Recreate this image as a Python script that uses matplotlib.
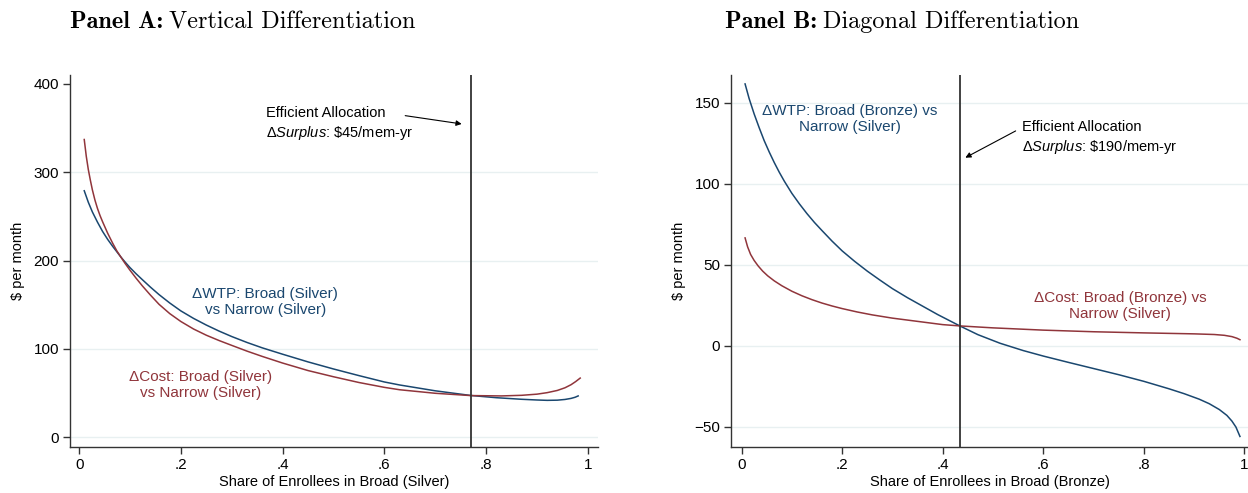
import matplotlib
matplotlib.use("Agg")
import matplotlib.pyplot as plt

plt.rcParams["font.family"] = ["Liberation Sans", "DejaVu Sans"]
plt.rcParams["mathtext.fontset"] = "custom"
plt.rcParams["mathtext.rm"] = "Liberation Sans"
plt.rcParams["mathtext.it"] = "Liberation Sans:italic"

BLUE = "#1a476f"
RED = "#90353b"
GRID = "#e8f0f1"
AXC = "#333333"

# Panel A: vertical differentiation (Silver vs Silver)
a_wtp_x = [0.01, 0.018, 0.026, 0.036, 0.046, 0.056, 0.066, 0.074, 0.082, 0.09, 0.1,
           0.112, 0.124, 0.14, 0.157, 0.178, 0.2, 0.225, 0.25, 0.275, 0.3, 0.33, 0.36,
           0.4, 0.45, 0.5, 0.55, 0.6, 0.63, 0.7, 0.77, 0.82, 0.87, 0.9, 0.92, 0.94,
           0.955, 0.967, 0.975, 0.981]
a_wtp_y = [279, 266, 255, 243.5, 233, 224, 216, 210, 204, 198.5, 192,
           185, 178.5, 170, 161.5, 152, 143, 134.5, 127, 120.2, 114, 107.3, 101.2,
           94, 85.3, 77.3, 69.8, 62.6, 59.2, 52.6, 47.3, 44.8, 43, 42.2, 41.8, 42,
           42.8, 44, 45.3, 46.8]
a_cost_x = [0.01, 0.014, 0.018, 0.022, 0.026, 0.031, 0.036, 0.041, 0.046, 0.056, 0.066,
            0.074, 0.082, 0.09, 0.1, 0.112, 0.124, 0.14, 0.157, 0.178, 0.2, 0.225,
            0.25, 0.275, 0.3, 0.33, 0.36, 0.4, 0.45, 0.5, 0.55, 0.6, 0.63, 0.7, 0.77,
            0.83, 0.87, 0.9, 0.92, 0.94, 0.955, 0.967, 0.976, 0.985]
a_cost_y = [337, 318, 303, 291, 280, 268.5, 259, 251, 244, 231, 219.5,
            211, 204, 197, 189, 180, 171.5, 161, 150.5, 140, 131, 122.5,
            115.5, 109.5, 104, 97.5, 91.5, 84, 75.5, 68.5, 62, 56.5, 53.8, 49.8, 47.2,
            46.8, 47.5, 48.8, 50.5, 53, 56, 59.5, 63, 67]
a_eff = 0.77
a_yticks = [0, 100, 200, 300, 400]
a_grid = [0, 100, 200, 300]

# Panel B: diagonal differentiation (Bronze vs Silver)
b_wtp_x = [0.007, 0.015, 0.025, 0.035, 0.045, 0.055, 0.065, 0.075, 0.085, 0.1, 0.115,
           0.13, 0.145, 0.16, 0.18, 0.2, 0.225, 0.25, 0.275, 0.3, 0.33, 0.36, 0.39,
           0.434, 0.47, 0.514, 0.56, 0.6, 0.65, 0.7, 0.75, 0.8, 0.85, 0.88, 0.91,
           0.93, 0.95, 0.965, 0.975, 0.983, 0.991]
b_wtp_y = [161.5, 152.5, 143, 134.5, 126.5, 119.5, 113, 107, 101.5, 94, 87.5,
           81.5, 76, 71, 64.5, 58.5, 52, 46, 40.5, 35.2, 29.6, 24.4, 19.2,
           12.2, 6.8, 1.5, -3, -6.4, -10.3, -14.1, -17.9, -22, -26.6, -29.6, -33,
           -35.8, -39.4, -43, -46.5, -50.2, -56]
b_cost_x = [0.007, 0.012, 0.018, 0.025, 0.033, 0.042, 0.052, 0.065, 0.08, 0.1, 0.12,
            0.14, 0.16, 0.18, 0.2, 0.23, 0.26, 0.3, 0.35, 0.4, 0.434, 0.5, 0.6, 0.7,
            0.8, 0.9, 0.94, 0.96, 0.975, 0.985, 0.991]
b_cost_y = [66.5, 61, 56.3, 52.6, 49.2, 46, 43.1, 40, 37, 33.6, 30.8,
            28.4, 26.3, 24.5, 22.9, 20.8, 19, 17, 15, 13, 12.2, 11, 9.6, 8.6,
            7.9, 7.3, 6.9, 6.4, 5.6, 4.6, 3.7]
b_eff = 0.434
b_yticks = [-50, 0, 50, 100, 150]

xticks = [0, 0.2, 0.4, 0.6, 0.8, 1]
xtick_labels = ["0", ".2", ".4", ".6", ".8", "1"]


def style_axes(ax):
    for s in ["top", "right"]:
        ax.spines[s].set_visible(False)
    for s in ["left", "bottom"]:
        ax.spines[s].set_color(AXC)
        ax.spines[s].set_linewidth(1.0)
    ax.tick_params(axis="both", direction="out", length=5, width=1.0,
                   color=AXC, labelsize=11, pad=3)
    ax.set_xticks(xticks)
    ax.set_xticklabels(xtick_labels)


def panel_title(fig, x, bold, rest):
    # bold part in CM bold, rest in CM roman right after it
    t = fig.text(x, 1 - 22 / 493, bold, ha="left", va="center",
                 fontsize=17.5, family="cmb10")
    r = fig.canvas.get_renderer()
    bb = t.get_window_extent(renderer=r)
    fig.text((bb.x1 + 6) / fig.bbox.width, 1 - 22 / 493, rest, ha="left",
             va="center", fontsize=17.5, family="cmr10")


fig = plt.figure(figsize=(12.48, 4.93), dpi=100)

# ---- Panel A
axA = fig.add_axes([70 / 1248, 46 / 493, 528 / 1248, 372 / 493])
style_axes(axA)
for g in a_grid:
    axA.axhline(g, color=GRID, lw=1.0, zorder=0)
axA.plot(a_wtp_x, a_wtp_y, color=BLUE, lw=1.1, solid_joinstyle="round")
axA.plot(a_cost_x, a_cost_y, color=RED, lw=1.1, solid_joinstyle="round")
axA.axvline(a_eff, color=AXC, lw=1.3)
axA.set_xlim(-0.018, 1.02)
axA.set_ylim(-11, 410)
axA.set_yticks(a_yticks)
axA.set_xlabel("Share of Enrollees in Broad (Silver)", fontsize=10.5, labelpad=2)
axA.set_ylabel(r"\$ per month", fontsize=10.5, labelpad=6)

axA.text(0.366, 153, "\u0394WTP: Broad (Silver)\nvs Narrow (Silver)", color=BLUE,
         ha="center", va="center", fontsize=11, linespacing=1.15)
axA.text(0.239, 59, "\u0394Cost: Broad (Silver)\nvs Narrow (Silver)", color=RED,
         ha="center", va="center", fontsize=11, linespacing=1.15)
axA.text(0.368, 355, "Efficient Allocation\n\u0394$\\mathit{Surplus}$: \\$45/mem-yr",
         ha="left", va="center", fontsize=10.5, linespacing=1.3)
axA.annotate("", xy=(0.752, 354.6), xytext=(0.641, 364),
             arrowprops=dict(arrowstyle="-|>", color="black", lw=0.8,
                             mutation_scale=8, shrinkA=0, shrinkB=0))

# ---- Panel B
axB = fig.add_axes([731 / 1248, 46 / 493, 517 / 1248, 372 / 493])
style_axes(axB)
for g in b_yticks:
    axB.axhline(g, color=GRID, lw=1.0, zorder=0)
axB.plot(b_wtp_x, b_wtp_y, color=BLUE, lw=1.1, solid_joinstyle="round")
axB.plot(b_cost_x, b_cost_y, color=RED, lw=1.1, solid_joinstyle="round")
axB.axvline(b_eff, color=AXC, lw=1.3)
axB.set_xlim(-0.021, 1.007)
axB.set_ylim(-62.5, 167)
axB.set_yticks(b_yticks)
axB.set_xlabel("Share of Enrollees in Broad (Bronze)", fontsize=10.5, labelpad=2)
axB.set_ylabel(r"\$ per month", fontsize=10.5, labelpad=6)

axB.text(0.215, 140, "\u0394WTP: Broad (Bronze) vs\nNarrow (Silver)", color=BLUE,
         ha="center", va="center", fontsize=11, linespacing=1.15)
axB.text(0.753, 24.6, "\u0394Cost: Broad (Bronze) vs\nNarrow (Silver)", color=RED,
         ha="center", va="center", fontsize=11, linespacing=1.15)
axB.text(0.558, 128, "Efficient Allocation\n\u0394$\\mathit{Surplus}$: \\$190/mem-yr",
         ha="left", va="center", fontsize=10.5, linespacing=1.3)
axB.annotate("", xy=(0.445, 116), xytext=(0.545, 132.5),
             arrowprops=dict(arrowstyle="-|>", color="black", lw=0.8,
                             mutation_scale=8, shrinkA=0, shrinkB=0))

# ---- titles
panel_title(fig, 70 / 1248, "Panel A:", "Vertical Differentiation")
panel_title(fig, 725 / 1248, "Panel B:", "Diagonal Differentiation")

fig.savefig("out.png", dpi=100)
